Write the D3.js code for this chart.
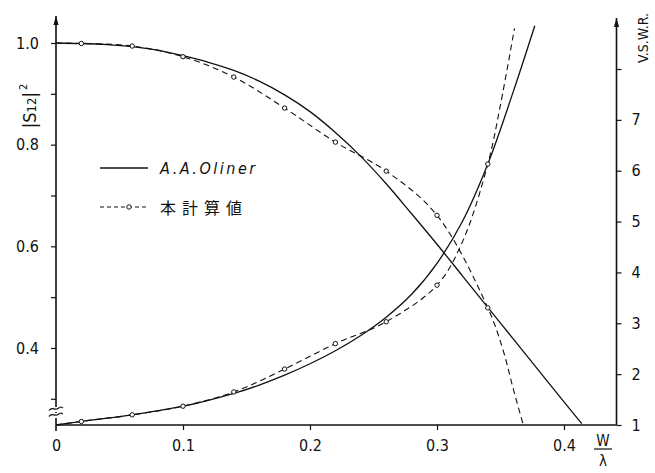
<!DOCTYPE html>
<html>
<head>
<meta charset="utf-8">
<script src="https://cdn.jsdelivr.net/npm/d3@7"></script>
<style>
  html, body { margin: 0; padding: 0; background: #fff; }
  svg text { fill: #111; }
</style>
</head>
<body>
<svg id="chart" width="655" height="473"></svg>
<script>
// |S12|^2 versus W/lambda (left axis), V.S.W.R. versus W/lambda (right axis)
const olinerS12X   = [0, 0.02, 0.04, 0.06, 0.08, 0.10, 0.12, 0.14, 0.16, 0.18, 0.20, 0.22, 0.24, 0.26, 0.28, 0.30, 0.32, 0.34, 0.36, 0.38, 0.40, 0.414];
const olinerS12    = [1.0, 0.999, 0.997, 0.993, 0.986, 0.975, 0.962, 0.946, 0.925, 0.898, 0.865, 0.824, 0.777, 0.723, 0.664, 0.604, 0.542, 0.480, 0.418, 0.356, 0.294, 0.251];
const calcS12X     = [0, 0.02, 0.06, 0.10, 0.14, 0.18, 0.22, 0.26, 0.30, 0.34, 0.352, 0.36, 0.368];
const calcS12      = [1.0, 0.999, 0.994, 0.973, 0.933, 0.872, 0.805, 0.748, 0.661, 0.479, 0.396, 0.32, 0.248];

const olinerVswrX  = [0, 0.02, 0.06, 0.10, 0.12, 0.14, 0.16, 0.18, 0.20, 0.22, 0.24, 0.26, 0.28, 0.30, 0.32, 0.34, 0.36, 0.377];
const olinerVswr   = [1.0, 1.07, 1.2, 1.37, 1.485, 1.62, 1.785, 1.98, 2.205, 2.46, 2.76, 3.12, 3.57, 4.18, 5.0, 6.13, 7.55, 8.85];
const calcVswrX    = [0, 0.02, 0.06, 0.10, 0.14, 0.18, 0.22, 0.26, 0.30, 0.32, 0.34, 0.35, 0.361];
const calcVswr     = [1.0, 1.07, 1.2, 1.37, 1.65, 2.1, 2.6, 3.03, 3.75, 4.6, 6.13, 7.3, 8.8];

// computed points shown with open circles
const markerX      = [0.02, 0.06, 0.10, 0.14, 0.18, 0.22, 0.26, 0.30, 0.34];

const xTicks       = [0, 0.1, 0.2, 0.3, 0.4];
const leftTicks    = [0.3, 0.4, 0.5, 0.6, 0.7, 0.8, 0.9, 1.0];
const leftLabels   = [0.4, 0.6, 0.8, 1.0];
const rightTicks   = [1, 2, 3, 4, 5, 6, 7, 8];
const rightLabels  = [1, 2, 3, 4, 5, 6, 7];

const legendItems  = ["A.A.Oliner", "本計算値"];

const svg = d3.select("#chart");
const tickFont = "'DejaVu Sans Condensed', 'DejaVu Sans', sans-serif";

const x  = d3.scaleLinear().domain([0, 0.4]).range([56, 564]);
const yL = d3.scaleLinear().domain([0.3, 1.0]).range([398.8, 43]);
const yR = d3.scaleLinear().domain([1, 8]).range([425, 69]);

const xLeft = x(0), xRight = 616.5, yBase = yR(1), yTop = 16;

// axes
const gx = svg.append("g").attr("transform", `translate(0,${yBase})`)
  .call(d3.axisBottom(x).tickValues(xTicks).tickSize(5).tickPadding(10)
    .tickFormat(d => d === 0 ? "0" : d3.format(".1f")(d)));
gx.select(".domain").remove();
gx.selectAll(".tick").filter(d => d === 0).select("line").remove();

const gl = svg.append("g").attr("transform", `translate(${xLeft},0)`)
  .call(d3.axisLeft(yL).tickValues(leftTicks).tickSize(5).tickPadding(12)
    .tickFormat(d => leftLabels.some(v => Math.abs(v - d) < 1e-9) ? d3.format(".1f")(d) : ""));
gl.select(".domain").remove();

const gr = svg.append("g").attr("transform", `translate(${xRight},0)`)
  .call(d3.axisRight(yR).tickValues(rightTicks).tickSize(5).tickPadding(10)
    .tickFormat(d => rightLabels.includes(d) ? String(d) : ""));
gr.select(".domain").remove();

svg.selectAll(".tick text").style("font-family", tickFont).style("font-size", "16px").attr("fill", "#111");
svg.selectAll(".tick line").attr("stroke", "#111").attr("stroke-width", 1.2);

// axis lines with arrowheads
function vline(px, y0, y1) {
  svg.append("line").attr("x1", px).attr("x2", px).attr("y1", y0).attr("y2", y1)
    .attr("stroke", "#111").attr("stroke-width", 1.6);
  svg.append("path").attr("d", `M${px},${y1} l-2.6,9 l5.2,0 z`).attr("fill", "#111");
}
vline(xLeft, 431, yTop);
vline(xRight, yBase, yTop + 2);
svg.append("line").attr("x1", xLeft).attr("x2", xRight).attr("y1", yBase).attr("y2", yBase)
  .attr("stroke", "#111").attr("stroke-width", 1.6);

// break symbol on the left axis
[409.5, 415.5].forEach(yy => {
  svg.append("rect").attr("x", xLeft - 6).attr("y", yy - 2.5).attr("width", 12).attr("height", 5).attr("fill", "#fff");
});
[409, 415].forEach(yy => {
  svg.append("path")
    .attr("d", `M${xLeft - 7},${yy + 1.5} C${xLeft - 4},${yy - 3} ${xLeft - 1},${yy + 2} ${xLeft + 2},${yy - 0.5} S${xLeft + 5},${yy - 2} ${xLeft + 7},${yy - 1}`)
    .attr("fill", "none").attr("stroke", "#111").attr("stroke-width", 1.3);
});

// curves
const pairs = (xs, ys) => xs.map((v, i) => [v, ys[i]]);
const lineL = d3.line().x(d => x(d[0])).y(d => yL(d[1])).curve(d3.curveCatmullRom.alpha(0.5));
const lineR = d3.line().x(d => x(d[0])).y(d => yR(d[1])).curve(d3.curveCatmullRom.alpha(0.5));

const curveG = svg.append("g").attr("fill", "none").attr("stroke", "#111");
curveG.append("path").attr("d", lineL(pairs(olinerS12X, olinerS12))).attr("stroke-width", 1.3);
curveG.append("path").attr("d", lineR(pairs(olinerVswrX, olinerVswr))).attr("stroke-width", 1.3);
curveG.append("path").attr("d", lineL(pairs(calcS12X, calcS12))).attr("stroke-width", 1.1).attr("stroke-dasharray", "6,4");
curveG.append("path").attr("d", lineR(pairs(calcVswrX, calcVswr))).attr("stroke-width", 1.1).attr("stroke-dasharray", "6,4");

// open-circle markers on the computed values
const markS12  = markerX.map(v => [v, calcS12[calcS12X.indexOf(v)]]);
const markVswr = markerX.map(v => [v, calcVswr[calcVswrX.indexOf(v)]]);
svg.append("g").selectAll("circle").data(markS12).join("circle")
  .attr("cx", d => x(d[0])).attr("cy", d => yL(d[1])).attr("r", 2.2)
  .attr("fill", "#fff").attr("stroke", "#111").attr("stroke-width", 1);
svg.append("g").selectAll("circle").data(markVswr).join("circle")
  .attr("cx", d => x(d[0])).attr("cy", d => yR(d[1])).attr("r", 2.2)
  .attr("fill", "#fff").attr("stroke", "#111").attr("stroke-width", 1);

// axis titles
const s12Label = svg.append("text")
  .attr("transform", "translate(36,106) rotate(-90)")
  .attr("text-anchor", "middle")
  .style("font-family", tickFont).style("font-size", "18px");
s12Label.append("tspan").text("|S");
s12Label.append("tspan").style("font-size", "13px").text("12");
s12Label.append("tspan").text("|");
s12Label.append("tspan").style("font-size", "11px").attr("dy", -9).attr("dx", 2).text("2");

svg.append("text")
  .attr("transform", "translate(648,38) rotate(-90)")
  .attr("text-anchor", "middle")
  .style("font-family", tickFont).style("font-size", "14px")
  .text("V.S.W.R.");

// W / lambda fraction at the end of the x axis
svg.append("text").attr("x", 603).attr("y", 446).attr("text-anchor", "middle")
  .style("font-family", tickFont).style("font-size", "15px").text("W");
svg.append("line").attr("x1", 594).attr("x2", 612).attr("y1", 449).attr("y2", 449)
  .attr("stroke", "#111").attr("stroke-width", 1.2);
svg.append("text").attr("x", 603).attr("y", 466).attr("text-anchor", "middle")
  .style("font-family", tickFont).style("font-size", "15px").text("λ");

// legend
const lg = svg.append("g");
lg.append("line").attr("x1", 100).attr("x2", 148).attr("y1", 168).attr("y2", 168)
  .attr("stroke", "#111").attr("stroke-width", 1.3);
lg.append("text").attr("x", 160).attr("y", 174)
  .style("font-family", tickFont).style("font-size", "16px").style("font-style", "italic")
  .style("letter-spacing", "2.5px").text(legendItems[0]);
lg.append("line").attr("x1", 100).attr("x2", 148).attr("y1", 207).attr("y2", 207)
  .attr("stroke", "#111").attr("stroke-width", 1.1).attr("stroke-dasharray", "4,3");
lg.append("circle").attr("cx", 129).attr("cy", 207).attr("r", 2.2)
  .attr("fill", "#fff").attr("stroke", "#111").attr("stroke-width", 1);
lg.append("text").attr("x", 160).attr("y", 214)
  .style("font-family", "'Noto Sans CJK JP', sans-serif").style("font-size", "16px")
  .style("letter-spacing", "6px").text(legendItems[1]);
</script>
</body>
</html>
